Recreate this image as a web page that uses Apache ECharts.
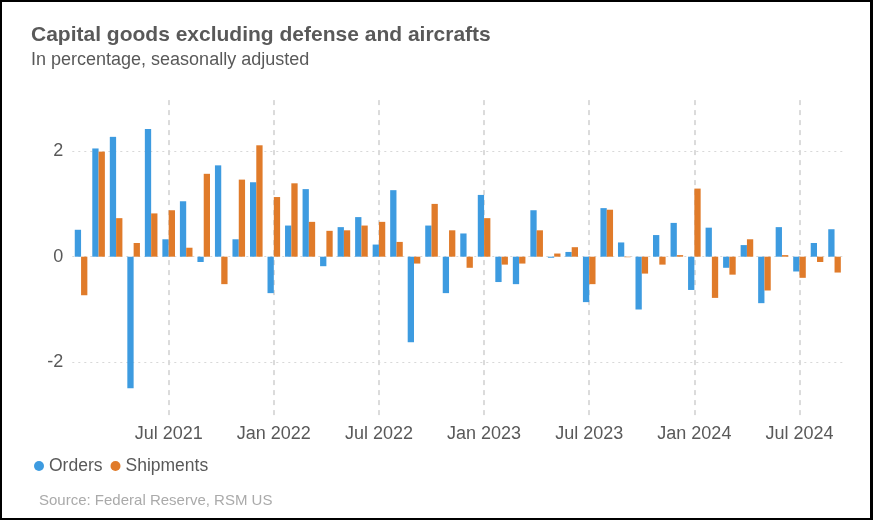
<!DOCTYPE html>
<html>
<head>
<meta charset="utf-8">
<script src="https://cdn.jsdelivr.net/npm/echarts@6/dist/echarts.min.js"></script>
<style>
html,body{margin:0;padding:0;background:#fff;}
#chart{width:873px;height:520px;}
</style>
</head>
<body>
<div id="chart"></div>
<script>
const months = [
  'Feb 2021','Mar 2021','Apr 2021','May 2021','Jun 2021','Jul 2021','Aug 2021','Sep 2021','Oct 2021','Nov 2021','Dec 2021',
  'Jan 2022','Feb 2022','Mar 2022','Apr 2022','May 2022','Jun 2022','Jul 2022','Aug 2022','Sep 2022','Oct 2022','Nov 2022','Dec 2022',
  'Jan 2023','Feb 2023','Mar 2023','Apr 2023','May 2023','Jun 2023','Jul 2023','Aug 2023','Sep 2023','Oct 2023','Nov 2023','Dec 2023',
  'Jan 2024','Feb 2024','Mar 2024','Apr 2024','May 2024','Jun 2024','Jul 2024','Aug 2024','Sep 2024'
];
const orders = [
  0.51, 2.05, 2.27, -2.49, 2.42, 0.33, 1.05, -0.10, 1.73, 0.33, 1.41,
  -0.69, 0.59, 1.28, -0.18, 0.56, 0.75, 0.23, 1.26, -1.62, 0.59, -0.69, 0.44,
  1.17, -0.48, -0.52, 0.88, -0.02, 0.09, -0.86, 0.92, 0.27, -1.00, 0.41, 0.64,
  -0.63, 0.55, -0.21, 0.22, -0.88, 0.56, -0.28, 0.26, 0.52
];
const shipments = [
  -0.73, 1.99, 0.73, 0.26, 0.82, 0.88, 0.17, 1.57, -0.52, 1.46, 2.11,
  1.13, 1.39, 0.66, 0.49, 0.50, 0.59, 0.66, 0.28, -0.13, 1.00, 0.50, -0.21,
  0.73, -0.15, -0.13, 0.50, 0.06, 0.18, -0.52, 0.89, -0.01, -0.32, -0.15, 0.03,
  1.29, -0.78, -0.34, 0.33, -0.64, 0.03, -0.40, -0.10, -0.30
];
const tickMonths = ['Jul 2021','Jan 2022','Jul 2022','Jan 2023','Jul 2023','Jan 2024','Jul 2024'];
const yLabels = [-2, 0, 2];

const title = 'Capital goods excluding defense and aircrafts';
const subtitle = 'In percentage, seasonally adjusted';
const source = 'Source: Federal Reserve, RSM US';

const FONT = '"Liberation Sans", Arial, sans-serif';
const chart = echarts.init(document.getElementById('chart'), null, {renderer: 'canvas'});

chart.setOption({
  animation: false,
  backgroundColor: '#fff',
  textStyle: {fontFamily: FONT},
  title: [
    {text: title, left: 26, top: 20, textStyle: {fontFamily: FONT, fontSize: 21, fontWeight: 'bold', color: '#595959'}},
    {text: subtitle, left: 26, top: 46, textStyle: {fontFamily: FONT, fontSize: 18, fontWeight: 'normal', color: '#595959'}},
    {text: source, left: 34, top: 488, textStyle: {fontFamily: FONT, fontSize: 15, fontWeight: 'normal', color: '#aaaaaa'}}
  ],
  legend: {
    left: 29, top: 452,
    icon: 'circle', itemWidth: 10, itemHeight: 10, itemGap: 8,
    textStyle: {fontFamily: FONT, fontSize: 17.5, color: '#595959'},
    data: ['Orders', 'Shipments']
  },
  grid: {left: 72.3, right: 29.7, top: 98.3, bottom: 104.9, containLabel: false},
  xAxis: {
    type: 'category',
    data: months,
    axisLine: {show: false},
    axisTick: {show: false},
    splitLine: {show: false},
    axisLabel: {
      interval: function (idx, val) { return tickMonths.indexOf(val) >= 0; },
      color: '#595959', fontSize: 18, margin: 10, fontFamily: FONT
    }
  },
  yAxis: {
    type: 'value',
    min: -3, max: 3, interval: 1,
    axisLine: {show: false},
    axisTick: {show: false},
    splitLine: {show: false},
    axisLabel: {
      color: '#595959', fontSize: 18, margin: 9, fontFamily: FONT,
      formatter: function (v) { return yLabels.indexOf(v) >= 0 ? String(v) : ''; }
    }
  },
  series: [
    {
      name: 'gridlines', type: 'line', data: [], z: 1, silent: true,
      markLine: {
        silent: true, symbol: 'none', label: {show: false}, z: 1,
        lineStyle: {color: '#cfcfcf', type: [5, 5], width: 1.5},
        data: tickMonths.map(m => ({xAxis: m}))
      }
    },
    {
      name: 'hgridlines', type: 'line', data: [], z: 1, silent: true,
      markLine: {
        silent: true, symbol: 'none', label: {show: false}, z: 1,
        lineStyle: {color: '#d8d8d8', type: [2, 4], width: 1.2},
        data: yLabels.map(v => ({yAxis: v}))
      }
    },
    {
      name: 'Orders', type: 'bar', data: orders,
      barWidth: 6.3, barGap: '0%', z: 3,
      itemStyle: {color: '#3d9be0'}
    },
    {
      name: 'Shipments', type: 'bar', data: shipments,
      barWidth: 6.3, barGap: '0%', z: 3,
      itemStyle: {color: '#e07b2a'}
    }
  ],
  graphic: [
    {type: 'rect', shape: {x: 0, y: 0, width: 873, height: 2}, style: {fill: '#000'}, z: 100},
    {type: 'rect', shape: {x: 0, y: 518, width: 873, height: 2}, style: {fill: '#000'}, z: 100},
    {type: 'rect', shape: {x: 0, y: 0, width: 2, height: 520}, style: {fill: '#000'}, z: 100},
    {type: 'rect', shape: {x: 870, y: 0, width: 3, height: 520}, style: {fill: '#000'}, z: 100}
  ]
});
</script>
</body>
</html>
